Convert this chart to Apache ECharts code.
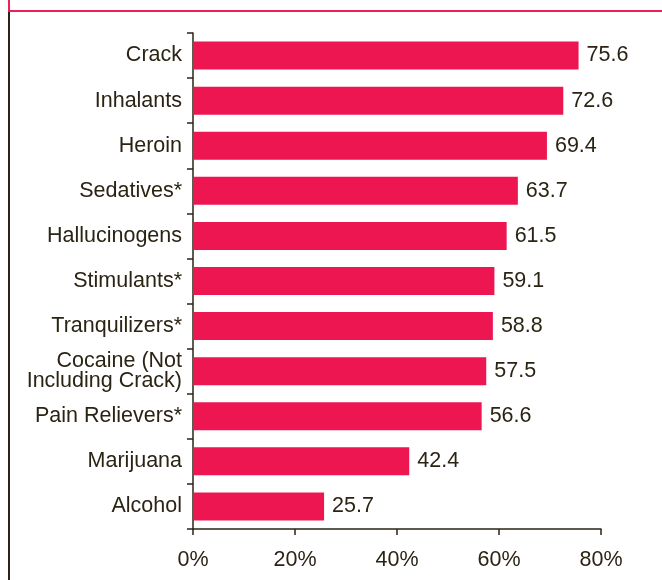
<!DOCTYPE html>
<html>
<head>
<meta charset="utf-8">
<script src="https://cdn.jsdelivr.net/npm/echarts@6/dist/echarts.min.js"></script>
<style>
  html, body { margin: 0; padding: 0; background: #fff; }
  #chart { width: 662px; height: 580px; }
</style>
</head>
<body>
<div id="chart"></div>
<script>
// categories from top to bottom
let drugs = ['Crack', 'Inhalants', 'Heroin', 'Sedatives*', 'Hallucinogens', 'Stimulants*',
    'Tranquilizers*', 'Cocaine (Not\nIncluding Crack)', 'Pain Relievers*', 'Marijuana', 'Alcohol'];
let percents = [75.6, 72.6, 69.4, 63.7, 61.5, 59.1, 58.8, 57.5, 56.6, 42.4, 25.7];
let xTicks = [0, 20, 40, 60, 80];

let ink = '#2b2414';
let pink = '#ee1651';
let fs = 21.5;

var myChart = echarts.init(document.getElementById('chart'));

var option = {
    animation: false,
    textStyle: { fontFamily: 'Liberation Sans, Arial, sans-serif' },
    grid: { left: 193, right: 61, top: 33, bottom: 51, containLabel: false },
    graphic: [
        // frame lines round the panel
        { type: 'rect', shape: { x: 8, y: 0, width: 2, height: 12 }, style: { fill: '#f21e5c' } },
        { type: 'rect', shape: { x: 8, y: 10, width: 654, height: 2 }, style: { fill: '#f21e5c' } },
        { type: 'rect', shape: { x: 8, y: 12, width: 2, height: 568 }, style: { fill: ink } }
    ],
    xAxis: {
        type: 'value',
        min: xTicks[0],
        max: xTicks[xTicks.length - 1],
        interval: 20,
        splitLine: { show: false },
        axisLine: { show: true, lineStyle: { color: ink, width: 1.5 } },
        axisTick: { show: true, length: 6, lineStyle: { color: ink, width: 1.5 } },
        axisLabel: {
            color: ink, fontSize: fs, margin: 20,
            formatter: function (v) { return v + '%'; }
        }
    },
    yAxis: {
        type: 'category',
        inverse: true,
        data: drugs,
        axisLine: { show: true, lineStyle: { color: ink, width: 1.5 } },
        axisTick: { show: true, length: 6, inside: false, lineStyle: { color: ink, width: 1.5 } },
        axisLabel: { color: ink, fontSize: fs, margin: 11, lineHeight: 20, align: 'right' }
    },
    series: [{
        type: 'bar',
        data: percents,
        barWidth: 28,
        itemStyle: { color: pink },
        label: {
            show: true,
            position: 'right',
            distance: 8,
            color: ink,
            fontSize: fs,
            formatter: function (p) { return p.value.toFixed(1); }
        }
    }]
};

myChart.setOption(option);
</script>
</body>
</html>
